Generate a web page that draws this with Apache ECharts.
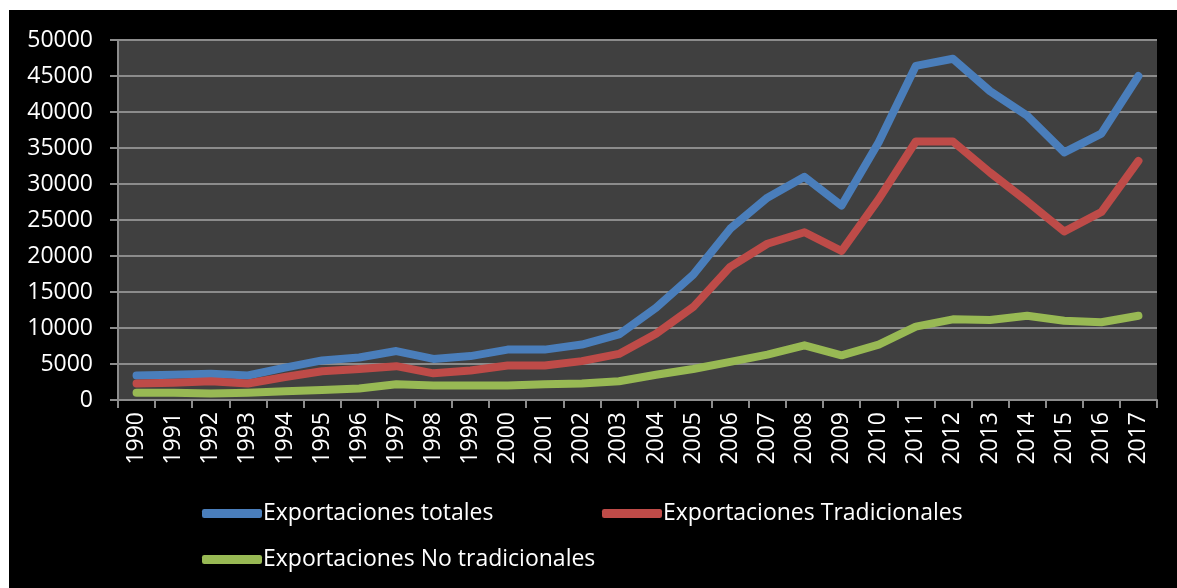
<!DOCTYPE html>
<html>
<head>
<meta charset="utf-8">
<script src="https://cdn.jsdelivr.net/npm/echarts@6/dist/echarts.min.js"></script>
<style>
  html, body { margin: 0; padding: 0; background: #ffffff; }
  #chart { position: absolute; left: 9px; top: 10px; width: 1168px; height: 578px; background: #000000; }
</style>
</head>
<body>
<div id="chart"></div>
<script>
// Data (millones US$)
var years = ['1990','1991','1992','1993','1994','1995','1996','1997','1998','1999',
             '2000','2001','2002','2003','2004','2005','2006','2007','2008','2009',
             '2010','2011','2012','2013','2014','2015','2016','2017'];
var totales = [3400, 3500, 3650, 3400, 4500, 5500, 5900, 6800, 5700, 6100,
               7000, 7000, 7700, 9100, 12800, 17400, 23800, 28100, 31000, 27000,
               35800, 46400, 47400, 42900, 39500, 34400, 37000, 45000];
var tradicionales = [2300, 2400, 2600, 2300, 3200, 4000, 4300, 4700, 3700, 4100,
                     4800, 4800, 5400, 6400, 9200, 12900, 18500, 21700, 23300, 20700,
                     27900, 35900, 35900, 31600, 27600, 23400, 26100, 33200];
var noTradicionales = [1000, 1000, 900, 1000, 1200, 1400, 1600, 2200, 2000, 2000,
                       2000, 2200, 2300, 2600, 3500, 4300, 5300, 6300, 7600, 6200,
                       7700, 10200, 11200, 11100, 11700, 11000, 10800, 11700];
var names = ['Exportaciones totales', 'Exportaciones Tradicionales', 'Exportaciones No tradicionales'];
var colors = ['#4a7ebb', '#be4b48', '#98b954'];

var chart = echarts.init(document.getElementById('chart'));

var fontFamily = '"Open Sans", sans-serif';

function legendFor(name, left, top) {
    return {
        data: [name],
        left: left,
        top: top,
        icon: 'roundRect',
        itemWidth: 60,
        itemHeight: 9,
        itemGap: 0,
        textStyle: { color: '#ffffff', fontSize: 23, fontFamily: fontFamily, padding: [0, 0, 0, -4] },
        selectedMode: false
    };
}

function lineSeries(name, data, color) {
    return {
        name: name,
        type: 'line',
        data: data,
        symbol: 'none',
        lineStyle: { width: 8, color: color, cap: 'round', join: 'round' },
        itemStyle: { color: color },
        animation: false
    };
}

var option = {
    backgroundColor: '#000000',
    color: colors,
    legend: [
        legendFor(names[0], 188, 487),
        legendFor(names[1], 588, 487),
        legendFor(names[2], 188, 533)
    ],
    grid: {
        left: 109,
        top: 30,
        right: 20,
        bottom: 188,
        show: true,
        backgroundColor: '#404040',
        borderWidth: 0
    },
    xAxis: {
        type: 'category',
        data: years,
        boundaryGap: true,
        axisLine: { lineStyle: { color: '#8c8c8c', width: 2 } },
        axisTick: { show: true, length: 8, lineStyle: { color: '#8c8c8c', width: 2 } },
        axisLabel: {
            rotate: 90,
            interval: 0,
            margin: 12,
            color: '#ffffff',
            fontSize: 23,
            fontFamily: fontFamily
        },
        splitLine: { show: false }
    },
    yAxis: {
        type: 'value',
        min: 0,
        max: 50000,
        interval: 5000,
        axisLine: { show: true, lineStyle: { color: '#8c8c8c', width: 2 } },
        axisTick: { show: true, length: 8, lineStyle: { color: '#8c8c8c', width: 2 } },
        axisLabel: {
            margin: 25,
            color: '#ffffff',
            fontSize: 23,
            fontFamily: fontFamily,
            formatter: function (value) { return String(value); }
        },
        splitLine: { show: true, lineStyle: { color: '#8c8c8c', width: 2 } }
    },
    series: [
        lineSeries(names[0], totales, colors[0]),
        lineSeries(names[1], tradicionales, colors[1]),
        lineSeries(names[2], noTradicionales, colors[2])
    ]
};

chart.setOption(option);
</script>
</body>
</html>
